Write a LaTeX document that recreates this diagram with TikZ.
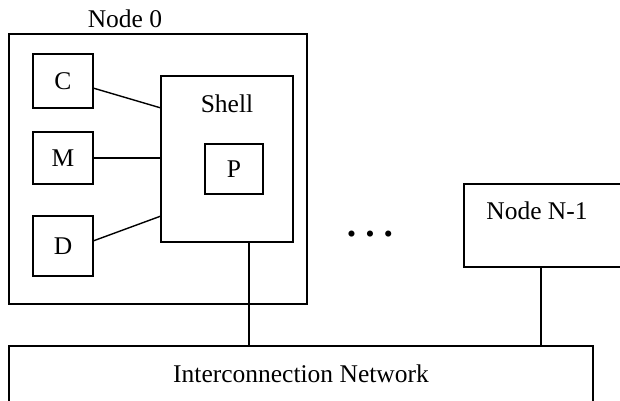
\documentclass[tikz,border=0pt]{standalone}
\usepackage{fontspec}
\setmainfont{Liberation Serif}
\begin{document}
\begin{tikzpicture}[x=1pt,y=-1pt,
  every node/.style={font=\fontsize{25.5}{30}\selectfont, inner sep=0pt, outer sep=0pt},
  box/.style={draw, line width=1.4pt, rectangle},
  wire/.style={line width=1.4pt}]
\useasboundingbox (0,0) rectangle (620,400);
\clip (0,0) rectangle (620,400);
% Node 0
\node[box, minimum width=298pt, minimum height=270pt] (n0) at (158,169) {};
\node[anchor=base] (n0lbl) at (125,27) {Node 0};
\node[box, minimum width=60pt, minimum height=54pt] (C) at (63,81) {C};
\node[box, minimum width=60pt, minimum height=52pt] (M) at (63,158) {M};
\node[box, minimum width=60pt, minimum height=60pt] (D) at (63,246) {D};
\node[box, minimum width=132pt, minimum height=166pt] (shell) at (227,159) {};
\node[anchor=base] (shelllbl) at (227,112) {Shell};
\node[box, minimum width=58pt, minimum height=50pt] (P) at (234,169) {P};
% dots
\node (dots) at (370,237) {\textbullet\hspace{9.5pt}\textbullet\hspace{9.5pt}\textbullet};
% Node N-1
\node[box, minimum width=186pt, minimum height=83pt] (nn1) at (557,225.5) {};
\node[anchor=base] (nn1lbl) at (537,219) {Node N-1};
% Network
\node[box, minimum width=584pt, minimum height=74pt] (net) at (301,383) {};
\node[anchor=base] (netlbl) at (301,382) {Interconnection Network};
% connectors
\draw[wire] ([yshift=-7pt]C.east) -- ([yshift=51pt]shell.west);
\draw[wire] (M.east) -- (M.east -| shell.west);
\draw[wire] ([yshift=5pt]D.east) -- ([yshift=-57pt]shell.west);
\draw[wire] ([xshift=22pt]shell.south) -- ([xshift=22pt]shell.south |- net.north);
\draw[wire] ([xshift=-16pt]nn1.south) -- ([xshift=-16pt]nn1.south |- net.north);
\end{tikzpicture}
\end{document}
